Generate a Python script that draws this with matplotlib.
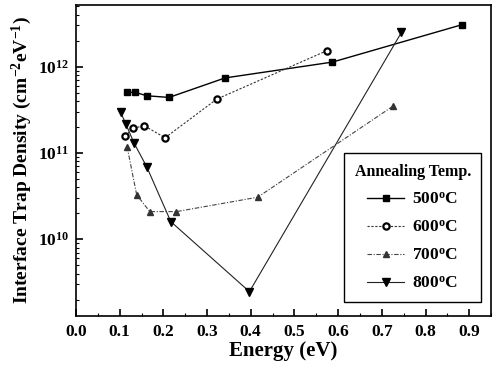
import matplotlib
matplotlib.use('Agg')
import matplotlib.pyplot as plt
import matplotlib.ticker as ticker
import numpy as np

plt.rcParams['font.family'] = ['Liberation Serif', 'DejaVu Serif']
plt.rcParams['font.weight'] = 'bold'
plt.rcParams['mathtext.fontset'] = 'custom'
plt.rcParams['mathtext.rm'] = 'Liberation Serif:bold'
plt.rcParams['mathtext.bf'] = 'Liberation Serif:bold'
plt.rcParams['mathtext.it'] = 'Liberation Serif:bold'
plt.rcParams['mathtext.default'] = 'bf'

# data
e_500 = [0.116, 0.135, 0.162, 0.213, 0.341, 0.587, 0.884]
d_500 = [5.05e11, 5.05e11, 4.6e11, 4.4e11, 7.4e11, 1.13e12, 3.07e12]

e_600 = [0.112, 0.131, 0.156, 0.204, 0.322, 0.574]
d_600 = [1.57e11, 1.93e11, 2.07e11, 1.5e11, 4.2e11, 1.53e12]

e_700 = [0.117, 0.139, 0.169, 0.230, 0.416, 0.726]
d_700 = [1.18e11, 3.26e10, 2.09e10, 2.09e10, 3.07e10, 3.5e11]

e_800 = [0.102, 0.114, 0.133, 0.162, 0.217, 0.397, 0.745]
d_800 = [2.99e11, 2.17e11, 1.3e11, 6.9e10, 1.6e10, 2.47e9, 2.5e12]

labels = ['500$^{o}$C', '600$^{o}$C', '700$^{o}$C', '800$^{o}$C']
x_ticks = [0.0, 0.1, 0.2, 0.3, 0.4, 0.5, 0.6, 0.7, 0.8, 0.9]

fig = plt.figure(figsize=(4.95, 3.76), dpi=100)
ax = fig.add_axes([0.1535, 0.1604, 0.8385, 0.8266])

ax.plot(e_500, d_500, color='black', ls='-', lw=1.0, marker='s', ms=4.5,
        label=labels[0])
ax.plot(e_600, d_600, color='#333333', ls=(0, (2, 1.5)), lw=0.8, marker='o',
        ms=4.5, mfc='white', mec='black', mew=1.6, label=labels[1])
ax.plot(e_700, d_700, color='#444444', ls=(0, (4, 1.5, 1, 1.5)), lw=0.8,
        marker='^', ms=4.5, mfc='#333333', mec='#333333', label=labels[2])
ax.plot(e_800, d_800, color='#222222', ls='-', lw=0.8, marker='v', ms=5.5,
        mfc='black', mec='black', label=labels[3])

ax.set_yscale('log')
ax.set_xlim(0, 0.95)
ax.set_ylim(1.3e9, 5.2e12)
ax.set_xticks(x_ticks)
ax.set_xticklabels(['%.1f' % v for v in x_ticks])
ax.xaxis.set_minor_locator(ticker.MultipleLocator(0.05))
ax.yaxis.set_major_locator(ticker.LogLocator(base=10, numticks=10))
ax.yaxis.set_minor_locator(ticker.LogLocator(base=10, subs=np.arange(2, 10), numticks=20))
ax.yaxis.set_minor_formatter(ticker.NullFormatter())

ax.tick_params(which='both', direction='in', top=False, right=False)
ax.tick_params(axis='x', labelsize=12.5, pad=6)
ax.tick_params(axis='y', labelsize=12.5, pad=5)
ax.tick_params(which='major', length=5, width=1.2)
ax.tick_params(which='minor', length=2.5, width=0.8)
for s in ax.spines.values():
    s.set_linewidth(1.2)

ax.set_xlabel('Energy (eV)', fontsize=15, fontweight='bold', labelpad=1)
ax.set_ylabel('Interface Trap Density (cm$^{-2}$eV$^{-1}$)', fontsize=14,
              fontweight='bold', labelpad=3)

leg = ax.legend(loc='lower right', bbox_to_anchor=(0.977, 0.044),
                borderaxespad=0, title='Annealing Temp.', fontsize=12.5,
                fancybox=False, edgecolor='black', framealpha=1,
                handlelength=2.1, handletextpad=0.5, borderpad=0.6,
                labelspacing=0.68)
leg.get_title().set_fontweight('bold')
leg.get_title().set_fontsize(11.5)
leg.get_frame().set_linewidth(1.0)

fig.savefig('out.png', dpi=100)
